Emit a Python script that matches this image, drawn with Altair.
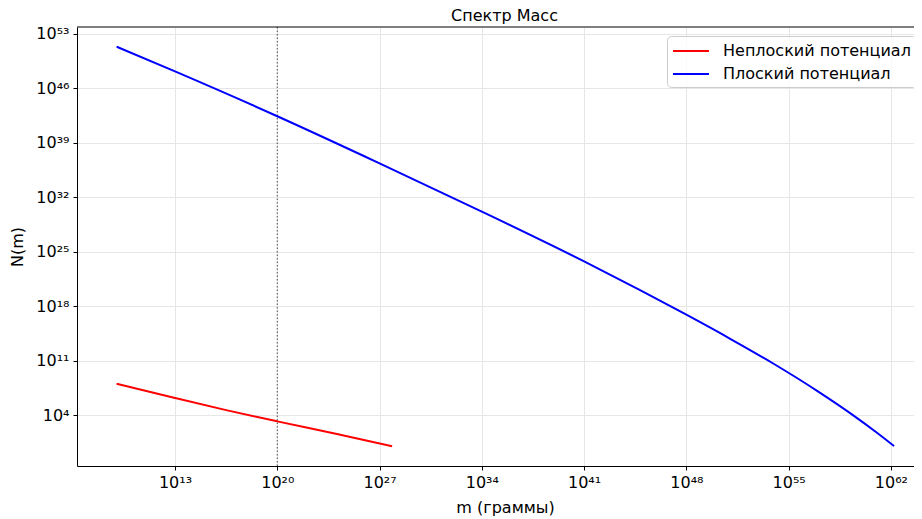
import altair as alt
import pandas as pd

# ---- data (log10 values) ----
series_names = ["Неплоский потенциал", "Плоский потенциал"]
series_colors = ["#ff0000", "#0000ff"]

red_m_exp = [9.0, 13.0, 16.5, 20.0, 24.0, 27.86]
red_N_exp = [8.03, 6.2, 4.65, 3.2, 1.6, 0.02]

blue_m_exp = [9.0, 13.0, 20.0, 27.0, 34.0, 41.0, 44.83, 48.0, 51.0, 54.0, 57.0, 59.4, 61.0, 62.22]
blue_N_exp = [51.33, 48.15, 42.4, 36.35, 30.15, 23.75, 20.06, 16.9, 13.81, 10.57, 7.06, 4.01, 1.81, 0.03]

x_tick_exps = [13, 20, 27, 34, 41, 48, 55, 62]
y_tick_exps = [4, 11, 18, 25, 32, 39, 46, 53]
vline_m = [1e20]

x_domain_exp = [6.29, 63.58]
y_domain_exp = [-2.53, 53.86]

title_text = "Спектр Масс"
x_title = "m (граммы)"
y_title = "N(m)"

# ---- build tables ----
rows = []
for name, mx, ny in [(series_names[0], red_m_exp, red_N_exp),
                     (series_names[1], blue_m_exp, blue_N_exp)]:
    for i, (a, b) in enumerate(zip(mx, ny)):
        rows.append({"series": name, "order": i, "m": 10.0 ** a, "N": 10.0 ** b})
df = pd.DataFrame(rows)
vdf = pd.DataFrame({"m": vline_m})

SUP = str.maketrans("0123456789-", "⁰¹²³⁴⁵⁶⁷⁸⁹⁻")


def label_expr(exps):
    parts = [f"round(log(datum.value)/LN10) == {e} ? '10{str(e).translate(SUP)}'" for e in exps]
    return " : ".join(parts) + " : ''"


FONT = "DejaVu Sans"

xscale = alt.Scale(type="log", domain=[10 ** x_domain_exp[0], 10 ** x_domain_exp[1]], nice=False)
yscale = alt.Scale(type="log", domain=[10 ** y_domain_exp[0], 10 ** y_domain_exp[1]], nice=False)

xaxis = alt.Axis(values=[10.0 ** e for e in x_tick_exps], labelExpr=label_expr(x_tick_exps),
                 title=x_title, titleX=428, titlePadding=9, labelPadding=4)
yaxis = alt.Axis(values=[10.0 ** e for e in y_tick_exps], labelExpr=label_expr(y_tick_exps),
                 title=y_title, titlePadding=10, labelPadding=4)

lines = alt.Chart(df).mark_line(strokeWidth=2, clip=True, interpolate="monotone").encode(
    x=alt.X("m:Q", scale=xscale, axis=xaxis),
    y=alt.Y("N:Q", scale=yscale, axis=yaxis),
    order="order:Q",
    color=alt.Color("series:N",
                    scale=alt.Scale(domain=series_names, range=series_colors),
                    legend=alt.Legend(title=None, orient="none", legendX=590, legendY=9,
                                      symbolType="M-1,0H3", symbolSize=324, symbolStrokeWidth=2,
                                      labelFontSize=16, labelFont=FONT, labelColor="#000000",
                                      labelOffset=31, rowPadding=5, labelLimit=0,
                                      fillColor="rgba(255,255,255,0.8)", strokeColor="#cccccc",
                                      cornerRadius=4, padding=5)),
)

vline = alt.Chart(vdf).mark_rule(color="#666666", strokeDash=[1.5, 2], strokeWidth=1.2).encode(
    x=alt.X("m:Q", scale=xscale)
)

top_spine = alt.Chart(vdf).mark_rule(color="#000000", strokeWidth=1).encode(
    x=alt.value(0), x2=alt.value("width"), y=alt.value(0)
)

chart = alt.layer(vline, lines, top_spine).properties(
    width=837, height=439,
    autosize=alt.AutoSizeParams(type="none"),
    padding={"left": 69, "top": 19, "right": 0, "bottom": 53},
    title=alt.Title(title_text, fontSize=16, fontWeight="normal", font=FONT, color="#000000",
                    anchor="middle", dx=9, offset=2),
).configure_view(stroke=None).configure_axis(
    labelFont=FONT, titleFont=FONT, labelFontSize=16, titleFontSize=16, titleFontWeight="normal",
    labelColor="#000000", titleColor="#000000", domainColor="#000000", tickColor="#000000",
    tickSize=4, domainWidth=1, gridColor="#e6e6e6", gridWidth=1,
)

chart.save("out.html", embed_options={"renderer": "svg", "actions": False})
